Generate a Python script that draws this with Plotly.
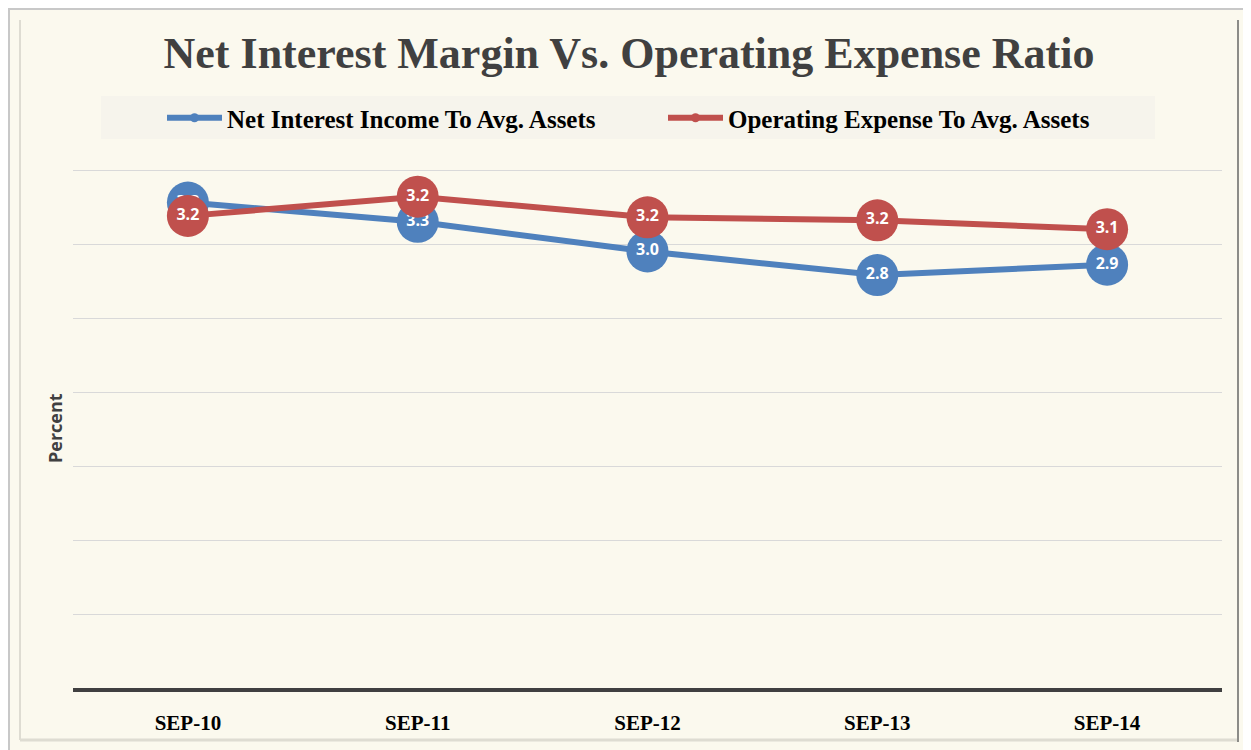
import plotly.graph_objects as go

categories = ["SEP-10", "SEP-11", "SEP-12", "SEP-13", "SEP-14"]
nii_values = [3.28, 3.15, 2.95, 2.79, 2.86]
opex_values = [3.19, 3.32, 3.18, 3.16, 3.10]
nii_labels = ["3.3", "3.3", "3.0", "2.8", "2.9"]
opex_labels = ["3.2", "3.2", "3.2", "3.2", "3.1"]
series_names = ["Net Interest Income To Avg. Assets", "Operating Expense To Avg. Assets"]

BLUE = "#4F81BD"
RED = "#C0504D"
BG = "#FBF9EE"

# page has an 8px body margin; work in page pixels and convert
O = 8
W, H = 1251 - O, 750 - O
L, R, T, B = 73 - O, 1222 - O, 166 - O, 688 - O
Y_TOP = 3.5 + 4 / 148.0


def xp(px):
    return (px - O - L) / (R - L)


def yp(py):
    return (B - (py - O)) / (B - T)


fig = go.Figure()

label_font = dict(family="Open Sans", size=16, color="white", weight="bold")

for vals, labs, col in [(nii_values, nii_labels, BLUE), (opex_values, opex_labels, RED)]:
    fig.add_trace(go.Scatter(
        x=categories, y=vals, mode="lines+markers+text",
        text=labs, textposition="middle center", textfont=label_font,
        line=dict(color=col, width=6),
        marker=dict(color=col, size=42),
        showlegend=False, cliponaxis=False, hoverinfo="skip",
    ))

# legend entries
for name, col in zip(series_names, [BLUE, RED]):
    fig.add_trace(go.Scatter(
        x=[None], y=[None], mode="lines+markers", name=name,
        line=dict(color=col, width=6), marker=dict(color=col, size=9),
    ))

shapes = [
    # legend background
    dict(type="rect", xref="paper", yref="paper", x0=xp(101), x1=xp(1155), y0=yp(139), y1=yp(96),
         fillcolor="#F6F4EC", line=dict(width=0), layer="below"),
    # outer frame lines
    dict(type="line", xref="paper", yref="paper", x0=xp(8), x1=xp(1251), y0=yp(9), y1=yp(9),
         line=dict(color="#C8C8C8", width=2)),
    dict(type="line", xref="paper", yref="paper", x0=xp(9), x1=xp(9), y0=yp(8), y1=yp(750),
         line=dict(color="#C8C8C8", width=2)),
    # inner frame
    dict(type="line", xref="paper", yref="paper", x0=xp(20), x1=xp(20), y0=yp(20), y1=yp(740),
         line=dict(color="#DEDCD2", width=2)),
    dict(type="line", xref="paper", yref="paper", x0=xp(20), x1=xp(1238), y0=yp(740), y1=yp(740),
         line=dict(color="#DEDCD2", width=3)),
    dict(type="line", xref="paper", yref="paper", x0=xp(1238), x1=xp(1238), y0=yp(20), y1=yp(742),
         line=dict(color="#8C8C88", width=2)),
]

fig.update_layout(
    width=W, height=H,
    margin=dict(l=L, r=W - R, t=T, b=H - B, pad=0),
    paper_bgcolor=BG, plot_bgcolor=BG,
    title=dict(
        text="Net Interest Margin Vs. Operating Expense Ratio",
        font=dict(family="Liberation Serif", size=44, color="#404040", weight="bold"),
        xref="container", yref="container", x=(629 - O) / W, y=1 - (53 - O) / H,
        xanchor="center", yanchor="middle",
    ),
    legend=dict(
        orientation="h", x=xp(162), y=yp(118), xanchor="left", yanchor="middle",
        bgcolor="rgba(0,0,0,0)",
        font=dict(family="Liberation Serif", size=25, color="black", weight="bold"),
        entrywidth=431, itemwidth=55,
    ),
    xaxis=dict(
        type="category", range=[-0.5, 4.5], showgrid=False, zeroline=False,
        showline=True, linecolor="#404040", linewidth=4,
        tickfont=dict(family="Liberation Serif", size=21, color="black", weight="bold"),
        ticks="", ticklabelstandoff=13, fixedrange=True,
    ),
    yaxis=dict(
        range=[0, Y_TOP], tick0=0, dtick=0.5, showticklabels=False, showgrid=True,
        gridcolor="#D9D9D9", gridwidth=1, zeroline=False, showline=False, ticks="",
        fixedrange=True,
    ),
    shapes=shapes,
    annotations=[dict(
        text="Percent", xref="paper", yref="paper", x=xp(55), y=yp(428),
        xanchor="center", yanchor="middle", textangle=-90, showarrow=False,
        font=dict(family="Open Sans", size=18, color="#404040", weight="bold"),
    )],
)

fig.write_html("out.html")
